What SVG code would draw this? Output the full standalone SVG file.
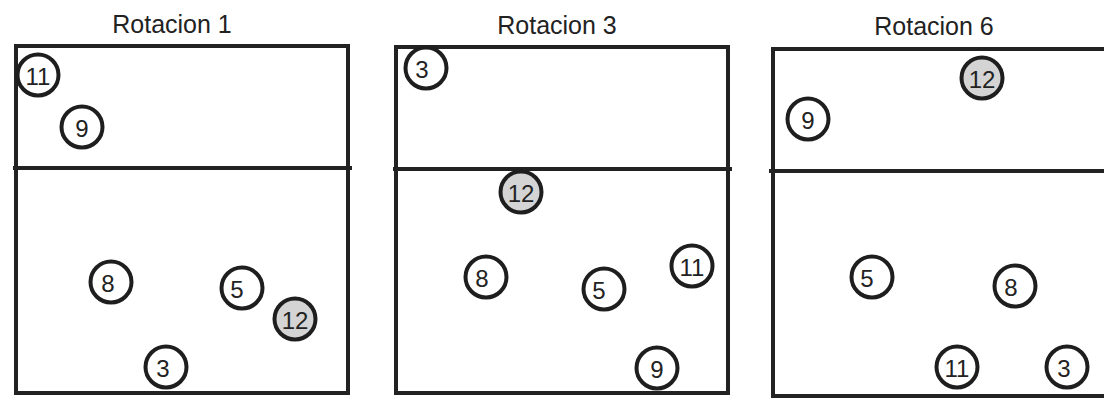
<svg xmlns="http://www.w3.org/2000/svg" width="1104" height="399" viewBox="0 0 1104 399">
<style>
.court{fill:none;stroke:#222;stroke-width:4}
.net{stroke:#222;stroke-width:4}
.title{font-family:"Liberation Sans",Arial,sans-serif;font-size:25px;fill:#222;text-anchor:middle}
.p circle{fill:#fff;stroke:#1e1e1e;stroke-width:4}
.p.g circle{fill:#d4d4d4}
.p text{font-family:"Liberation Sans",Arial,sans-serif;font-size:24px;fill:#222;text-anchor:middle;dominant-baseline:central}
</style>
<rect width="1104" height="399" fill="#fff"/>
<g id="court1">
<text class="title" x="172" y="33">Rotacion 1</text>
<rect class="court" x="16" y="46" width="332" height="347"/>
<line class="net" x1="13" y1="168" x2="352" y2="168"/>
</g>
<g id="court3">
<text class="title" x="557" y="34">Rotacion 3</text>
<rect class="court" x="396" y="47" width="332" height="346"/>
<line class="net" x1="393" y1="169" x2="732" y2="169"/>
</g>
<g id="court6">
<text class="title" x="934" y="35">Rotacion 6</text>
<rect class="court" x="773" y="49" width="340" height="347"/>
<line class="net" x1="769" y1="171" x2="1110" y2="171"/>
</g>
<g id="connectors"></g>
<g id="r1-11" class="p"><circle cx="38" cy="75" r="20.5"/><text x="38" y="76">11</text></g>
<g id="r1-9" class="p"><circle cx="82" cy="127" r="20.5"/><text x="82" y="128">9</text></g>
<g id="r1-8" class="p"><circle cx="111" cy="282" r="20.5"/><text x="108" y="283">8</text></g>
<g id="r1-5" class="p"><circle cx="242" cy="288" r="20.5"/><text x="237" y="289">5</text></g>
<g id="r1-12" class="p g"><circle cx="295" cy="319" r="20.5"/><text x="295" y="320">12</text></g>
<g id="r1-3" class="p"><circle cx="166" cy="367" r="20.5"/><text x="163" y="368">3</text></g>
<g id="r3-3" class="p"><circle cx="426" cy="68" r="20.5"/><text x="422" y="69">3</text></g>
<g id="r3-12" class="p g"><circle cx="521" cy="192" r="20.5"/><text x="521" y="193">12</text></g>
<g id="r3-8" class="p"><circle cx="486" cy="277" r="20.5"/><text x="482" y="278">8</text></g>
<g id="r3-5" class="p"><circle cx="604" cy="289" r="20.5"/><text x="599" y="290">5</text></g>
<g id="r3-11" class="p"><circle cx="692" cy="266" r="20.5"/><text x="692" y="267">11</text></g>
<g id="r3-9" class="p"><circle cx="657" cy="368" r="20.5"/><text x="657" y="369">9</text></g>
<g id="r6-12" class="p g"><circle cx="982" cy="78" r="20.5"/><text x="982" y="79">12</text></g>
<g id="r6-9" class="p"><circle cx="808" cy="119" r="20.5"/><text x="808" y="120">9</text></g>
<g id="r6-5" class="p"><circle cx="872" cy="277" r="20.5"/><text x="867" y="278">5</text></g>
<g id="r6-8" class="p"><circle cx="1015" cy="286" r="20.5"/><text x="1011" y="287">8</text></g>
<g id="r6-11" class="p"><circle cx="957" cy="367" r="20.5"/><text x="957" y="368">11</text></g>
<g id="r6-3" class="p"><circle cx="1067" cy="367" r="20.5"/><text x="1064" y="368">3</text></g>
</svg>
